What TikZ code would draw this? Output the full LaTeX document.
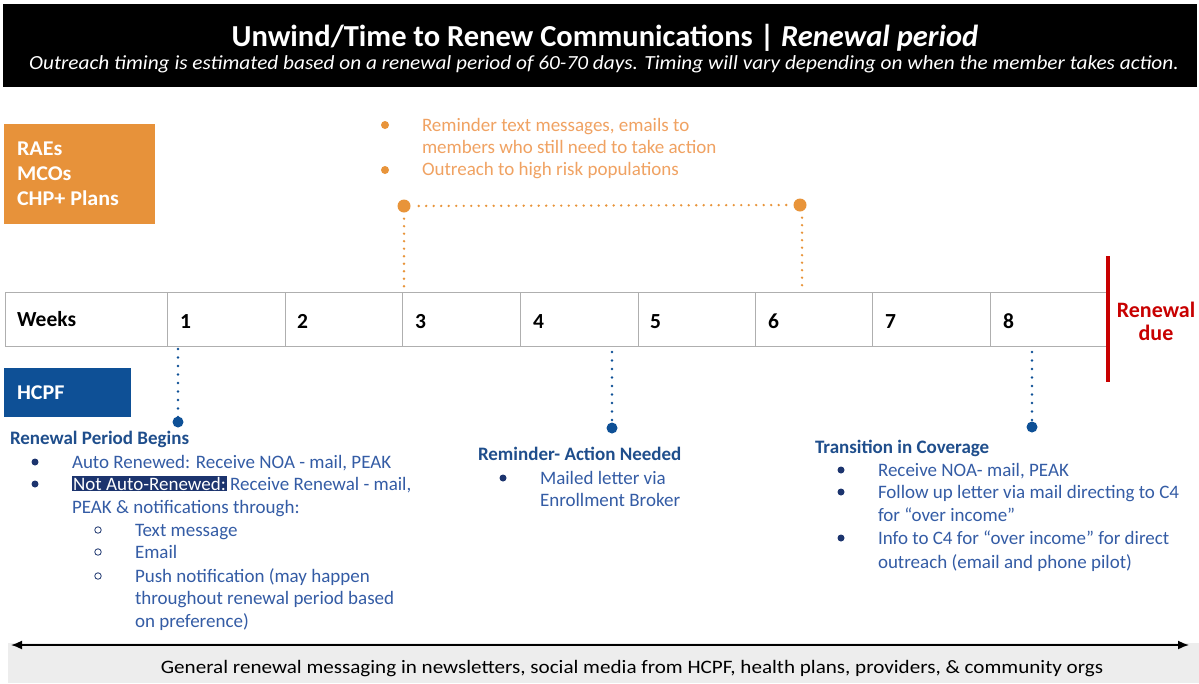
\documentclass[tikz,border=0pt]{standalone}
\usepackage{fontspec}
\setmainfont{Carlito}
\usetikzlibrary{arrows.meta}
\definecolor{orangebox}{RGB}{231,146,58}
\definecolor{orangetext}{RGB}{240,162,98}
\definecolor{orangedot}{RGB}{232,148,58}
\definecolor{hcpfblue}{RGB}{14,80,150}
\definecolor{bluehead}{RGB}{31,78,140}
\definecolor{bluetext}{RGB}{52,92,165}
\definecolor{navyhl}{RGB}{28,52,110}
\definecolor{reddue}{RGB}{200,0,0}
\definecolor{gridgray}{RGB}{175,175,175}
\definecolor{bandgray}{RGB}{237,237,237}
\tikzset{
  txt/.style={anchor=base west, inner sep=0pt, outer sep=0pt},
  otxt/.style={txt, text=orangetext, font=\fontsize{19}{22}\selectfont},
  btxt/.style={txt, text=bluetext, font=\fontsize{19}{22}\selectfont},
  bhead/.style={txt, text=bluehead, font=\fontsize{19}{22}\selectfont\bfseries},
  wk/.style={txt, text=black, font=\fontsize{21.5}{24}\selectfont\bfseries},
  boxtxt/.style={txt, text=white, font=\fontsize{21}{24}\selectfont\bfseries},
  odots/.style={orangedot, line width=2.6pt, line cap=round, dash pattern=on 0pt off 7.5pt},
  bdots/.style={hcpfblue, line width=2.6pt, line cap=round, dash pattern=on 0pt off 8.5pt},
  fbul/.style={circle, fill=navyhl, inner sep=0pt, minimum size=7pt},
  hbul/.style={circle, draw=navyhl, line width=0.8pt, inner sep=0pt, minimum size=6.5pt},
  obul/.style={circle, fill=orangedot, inner sep=0pt, minimum size=8pt},
  odot/.style={circle, fill=orangedot, inner sep=0pt, minimum size=13pt},
  bdot/.style={circle, fill=hcpfblue, inner sep=0pt, minimum size=11pt},
  cell/.style={draw=gridgray, line width=1pt}
}
\begin{document}
\begin{tikzpicture}[x=1pt,y=-1pt]
\useasboundingbox[fill=white] (0,0) rectangle (1199,683);
% header
\fill[black] (3,4) rectangle (1197,87);
\node[anchor=base, text=white, font=\fontsize{30.5}{33}\selectfont\bfseries, inner sep=0pt] (title) at (605,46)
  {Unwind/Time to Renew Communications | \textit{Renewal period}};
\node[anchor=base, text=white, font=\fontsize{20}{22}\selectfont\itshape, inner sep=0pt] (subtitle) at (604,69)
  {\scalebox{1.065}[1]{Outreach timing is estimated based on a renewal period of 60-70 days. Timing will vary depending on when the member takes action.}};
% orange box
\fill[orangebox] (4,124) rectangle (155,224);
\node[boxtxt] (raes) at (17,155) {\scalebox{1.05}[1]{RAEs}};
\node[boxtxt] (mcos) at (17,180) {\scalebox{1.05}[1]{MCOs}};
\node[boxtxt] (chp) at (17,205) {\scalebox{1.05}[1]{CHP+ Plans}};
% orange bullets
\node[obul] (ob1) at (385,125) {};
\node[obul] (ob2) at (385,170) {};
\node[otxt] (ot1) at (422,131) {Reminder text messages, emails to};
\node[otxt] (ot2) at (422,153) {members who still need to take action};
\node[otxt] (ot3) at (422,175) {Outreach to high risk populations};
% orange bracket
\node[odot] (oA) at (404,206) {};
\node[odot] (oB) at (800,205) {};
\coordinate (oAd) at (404,291);
\coordinate (oBd) at (802,291);
\draw[odots] (oA.east) ++(8,0) -- ([xshift=-6]oB.west);
\draw[odots] (oA.south) ++(0,6) -- (oAd);
\draw[odots] (oB.south) ++(2,6) -- (oBd);
% table
\draw[cell] (5,292) rectangle (1106,346);
\foreach \xx in {167,285,402,520,638,755,872,990}{
  \draw[cell] (\xx,292) -- (\xx,346);
}
\node[txt, font=\fontsize{21.5}{24}\selectfont\bfseries] (weeks) at (17,326) {Weeks};
\node[wk] (w1) at (180,328) {1};
\node[wk] (w2) at (297,328) {2};
\node[wk] (w3) at (415,328) {3};
\node[wk] (w4) at (533,328) {4};
\node[wk] (w5) at (650,328) {5};
\node[wk] (w6) at (768,328) {6};
\node[wk] (w7) at (885,328) {7};
\node[wk] (w8) at (1003,328) {8};
% renewal due
\coordinate (rtop) at (1108,256);
\coordinate (rbot) at (1108,382);
\draw[reddue, line width=4pt] (rtop) -- (rbot);
\node[anchor=base, inner sep=0pt, text=reddue, font=\fontsize{22}{24}\selectfont\bfseries] (ren) at (1156,317) {Renewal};
\node[anchor=base, inner sep=0pt, text=reddue, font=\fontsize{22}{24}\selectfont\bfseries] (due) at (1156,340) {due};
% HCPF box
\fill[hcpfblue] (4,368) rectangle (131,417);
\node[boxtxt] (hcpf) at (17,399) {\scalebox{1.05}[1]{HCPF}};
% blue drops
\coordinate (b1t) at (178,349);
\coordinate (b2t) at (612,352);
\coordinate (b3t) at (1032,352);
\node[bdot] (b1) at (178,422) {};
\node[bdot] (b2) at (612,428) {};
\node[bdot] (b3) at (1032,427) {};
\draw[bdots] (b1t) -- ([yshift=-8]b1.north);
\draw[bdots] (b2t) -- ([yshift=-8]b2.north);
\draw[bdots] (b3t) -- ([yshift=-8]b3.north);
% left block
\node[bhead] (h1) at (10,444) {Renewal Period Begins};
\node[fbul] (l1b) at (35,462) {};
\node[fbul] (l2b) at (35,484) {};
\node[btxt] (l1) at (72,468) {Auto Renewed: Receive NOA - mail, PEAK};
\node[btxt] (l2) at (72,490) {{\setlength\fboxsep{1.2pt}\colorbox{navyhl}{\textcolor{white}{Not Auto-Renewed:}}}\kern-1.2pt\ Receive Renewal - mail,};
\node[btxt] (l3) at (72,513) {PEAK \& notifications through:};
\node[hbul] (s1b) at (98,530) {};
\node[hbul] (s2b) at (98,552) {};
\node[hbul] (s3b) at (98,576) {};
\node[btxt] (s1) at (135,536) {Text message};
\node[btxt] (s2) at (135,558) {Email};
\node[btxt] (s3) at (135,582) {Push notification (may happen};
\node[btxt] (s4) at (135,604) {throughout renewal period based};
\node[btxt] (s5) at (135,627) {on preference)};
% middle block
\node[bhead] (h2) at (478,460) {Reminder- Action Needed};
\node[fbul] (m1b) at (503,478) {};
\node[btxt] (m1) at (540,484) {Mailed letter via};
\node[btxt] (m2) at (540,506) {Enrollment Broker};
% right block
\node[bhead] (h3) at (815,453) {Transition in Coverage};
\node[fbul] (r1b) at (841,470) {};
\node[fbul] (r2b) at (841,492) {};
\node[fbul] (r3b) at (841,538) {};
\node[btxt] (r1) at (878,476) {Receive NOA- mail, PEAK};
\node[btxt] (r2) at (878,498) {Follow up letter via mail directing to C4};
\node[btxt] (r3) at (878,521) {for “over income”};
\node[btxt] (r4) at (878,544) {Info to C4 for “over income” for direct};
\node[btxt] (r5) at (878,568) {outreach (email and phone pilot)};
% bottom band
\fill[bandgray] (8,643) rectangle (1199,683);
\coordinate (aL) at (11,645);
\coordinate (aR) at (1189,645);
\draw[black, line width=1.6pt, {Latex[length=11pt,width=9pt]}-{Latex[length=11pt,width=9pt]}] (aL) -- (aR);
\node[anchor=base, inner sep=0pt, font=\fontsize{19}{22}\selectfont] (gen) at (632,673)
  {\scalebox{1.11}[1]{General renewal messaging in newsletters, social media from HCPF, health plans, providers, \& community orgs}};
\end{tikzpicture}
\end{document}
